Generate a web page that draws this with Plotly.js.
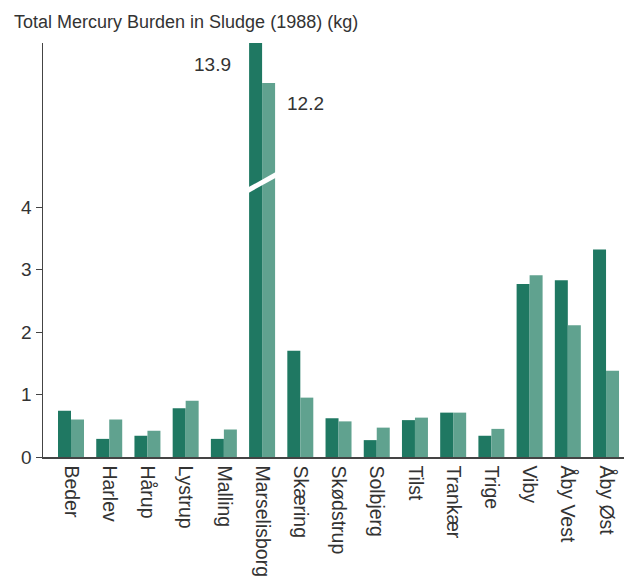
<!DOCTYPE html>
<html>
<head>
<meta charset="utf-8">
<script src="https://cdn.plot.ly/plotly-3.0.1.min.js"></script>
<style>html,body{margin:0;padding:0;background:#fff;}#chart{width:624px;height:585px;}</style>
</head>
<body>
<div id="chart"></div>
<script>
// ---- data ----
const categories = ["Beder","Harlev","Hårup","Lystrup","Malling","Marselisborg","Skæring","Skødstrup","Solbjerg","Tilst","Trankær","Trige","Viby","Åby Vest","Åby Øst"];
const seriesDark  = [0.74, 0.29, 0.34, 0.78, 0.29, 13.9, 1.70, 0.62, 0.27, 0.59, 0.71, 0.34, 2.77, 2.83, 3.32];
const seriesLight = [0.60, 0.60, 0.42, 0.90, 0.44, 12.2, 0.95, 0.57, 0.47, 0.63, 0.71, 0.45, 2.91, 2.11, 1.38];
const yTicks = [0, 1, 2, 3, 4];
const calloutLabels = ["13.9", "12.2"];

// ---- styling ----
const darkColor = "#1f7862";
const lightColor = "#60a28f";
const textColor = "#333333";
const fontFamily = "'Liberation Sans', Arial, Helvetica, sans-serif";
const lowerTop = 4.384;      // top of the lower (unbroken) axis
const upperRange = [7.95, 13.9]; // range of the upper part above the break
const breakFrac = 0.6618;

function traces(yaxis) {
  return [
    {type: "bar", x: categories, y: seriesDark, yaxis: yaxis, name: "Dark",
     marker: {color: darkColor, line: {width: 0}}, hoverinfo: "x+y"},
    {type: "bar", x: categories, y: seriesLight, yaxis: yaxis, name: "Light",
     marker: {color: lightColor, line: {width: 0}}, hoverinfo: "x+y"}
  ];
}

const data = traces("y").concat(traces("y2"));

const marsIdx = categories.indexOf("Marselisborg");

const layout = {
  width: 624, height: 585,
  margin: {l: 43, r: 0, t: 43, b: 128},
  paper_bgcolor: "#ffffff", plot_bgcolor: "#ffffff",
  showlegend: false,
  barmode: "group", bargap: 0.32, bargroupgap: 0,
  font: {family: fontFamily, color: textColor, size: 18},
  title: {text: "Total Mercury Burden in Sludge (1988) (kg)",
          font: {family: fontFamily, size: 18, color: textColor},
          xref: "container", x: 14/624, xanchor: "left",
          yref: "container", y: 1 - 22/585, yanchor: "middle"},
  xaxis: {type: "category", range: [-0.733, 14.47], anchor: "y",
          showline: true, linecolor: "#444", linewidth: 1.5,
          ticks: "outside", ticklen: 3, tickcolor: "rgba(0,0,0,0)",
          tickangle: 90, showgrid: false, zeroline: false,
          tickfont: {size: 19.5, color: textColor}, fixedrange: true},
  yaxis: {domain: [0, breakFrac], range: [0, lowerTop], anchor: "x",
          tickvals: yTicks, ticktext: yTicks.map(String),
          ticks: "outside", ticklen: 6, tickwidth: 1, tickcolor: "#444",
          showline: true, linecolor: "#444", linewidth: 1.5,
          showgrid: false, zeroline: false,
          tickfont: {size: 19, color: textColor}, fixedrange: true},
  yaxis2: {domain: [breakFrac, 1], range: upperRange, anchor: "x",
           showticklabels: false, ticks: "",
           showline: true, linecolor: "#444", linewidth: 1.5,
           showgrid: false, zeroline: false, fixedrange: true},
  annotations: [
    {xref: "x", yref: "y2", x: categories[marsIdx], y: seriesDark[marsIdx],
     text: calloutLabels[0], showarrow: false, xanchor: "right", yanchor: "middle",
     xshift: -29, yshift: -21, font: {size: 19, color: textColor}},
    {xref: "x", yref: "y2", x: categories[marsIdx], y: seriesLight[marsIdx],
     text: calloutLabels[1], showarrow: false, xanchor: "left", yanchor: "middle",
     xshift: 23, yshift: -20, font: {size: 19, color: textColor}}
  ],
  shapes: [
    {type: "line", xref: "x", yref: "paper",
     x0: marsIdx - 0.40, x1: marsIdx + 0.40,
     y0: (457-191)/414, y1: (457-174)/414,
     line: {color: "#ffffff", width: 5}, layer: "above"}
  ]
};

Plotly.newPlot("chart", data, layout, {displayModeBar: false, staticPlot: true});
</script>
</body>
</html>
